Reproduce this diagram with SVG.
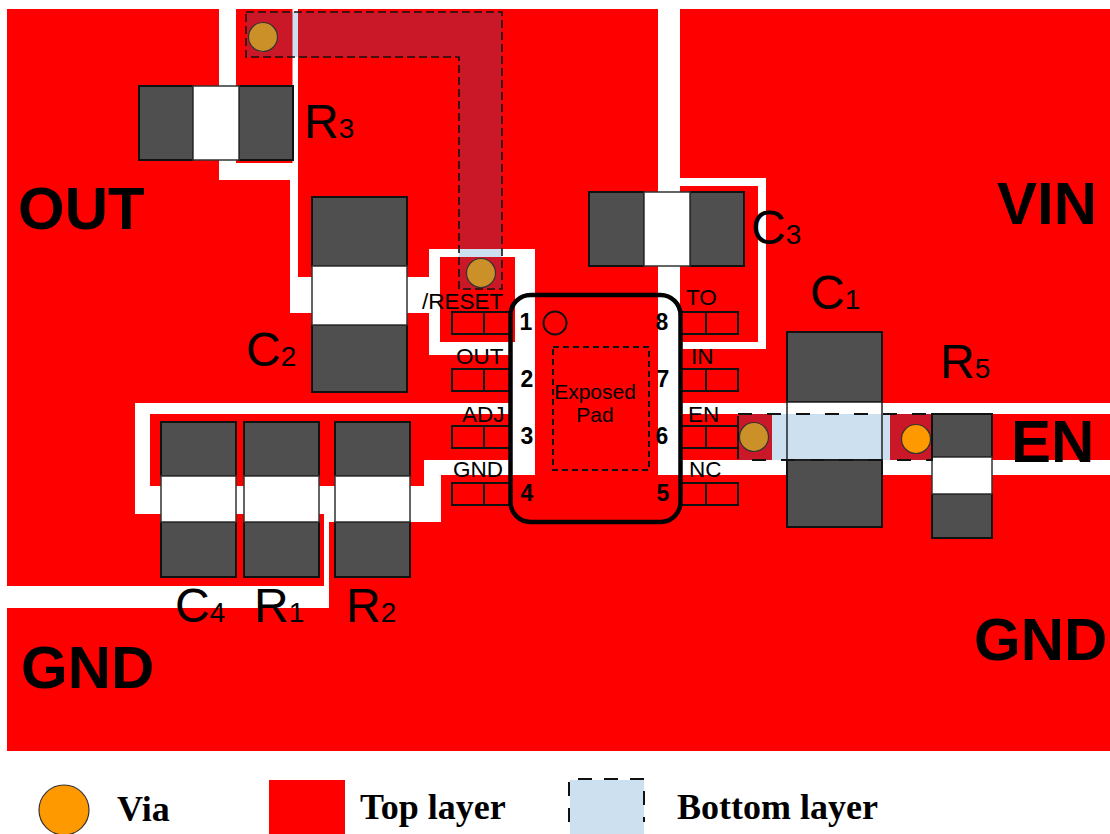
<svg xmlns="http://www.w3.org/2000/svg" width="1110" height="834" viewBox="0 0 1110 834">
<style>
.cu{fill:#ff0000}
.ov{fill:#cb1829}
.bl{fill:#cce0f0}
.dash{fill:none;stroke:#111;stroke-width:1.6;stroke-dasharray:8 4}
.dk{fill:#4f4f4f;stroke:#111;stroke-width:2}
.wh{fill:#fff;stroke:#333;stroke-width:1.5}
.pin{fill:none;stroke:#111;stroke-width:2}
.via{fill:#cc9028;stroke:#333;stroke-width:1.2}
.ovia{fill:#ff9900;stroke:#333;stroke-width:1.2}
text{font-family:"Liberation Sans",Arial,sans-serif;fill:#000}
.big{font-size:60px;font-weight:bold}
.ref{font-size:48px}
.sub{font-size:28px}
.lbl{font-size:22.5px}
.num{font-size:23px;font-weight:bold;text-anchor:middle}
.leg{font-family:"Liberation Serif","Times New Roman",serif;font-size:36px;font-weight:bold}
</style>
<rect width="1110" height="834" fill="#fff"/>
<g id="top-copper">
<polygon id="net-out" class="cu" points="7,9 219,9 219,180 290,180 290,313 429,313 429,355 510,355 510,403 135,403 135,514 324,514 324,586 7,586"/>
<rect id="r3-pad" class="cu" x="236" y="9" width="56.500" height="154"/>
<polygon id="net-reset-side" class="cu" points="298,9 658,9 658,475 535,475 535,249 429,249 429,277 298,277"/>
<rect id="reset-pad" class="cu" x="440" y="257" width="75" height="85"/>
<polygon id="net-vin" class="cu" points="680,9 1110,9 1110,403 680,403 680,349 766,349 766,178 680,178"/>
<rect id="c3-pad" class="cu" x="680" y="186" width="78" height="156"/>
<polygon id="net-adj" class="cu" points="150,414 510,414 510,460 424,460 424,486 150,486"/>
<rect id="net-en" class="cu" x="680" y="414" width="430" height="46"/>
<polygon id="net-gnd" class="cu" points="7,608 329,608 329,522 441,522 441,475 1110,475 1110,751 7,751"/>
</g>
<g id="bottom-layer">
<polygon class="ov" points="246,12 502,12 502,289 459,289 459,57 246,57"/>
<rect class="bl" x="292.500" y="12" width="5.500" height="45"/>
<rect class="bl" x="459" y="249" width="43" height="8"/>
<rect class="bl" x="772" y="414" width="118" height="46"/>
<rect class="ov" x="738" y="414" width="34" height="46"/>
<rect class="ov" x="890" y="414" width="42" height="46"/>
<polygon class="dash" points="246,12 502,12 502,289 459,289 459,57 246,57"/>
</g>
<g id="R3">
<rect class="dk" x="139" y="86" width="54" height="74"/><rect class="dk" x="239" y="86" width="54" height="74"/><rect class="wh" x="193" y="86" width="46" height="74"/>
<text class="ref" x="304" y="138">R<tspan class="sub">3</tspan></text>
</g>
<g id="C2">
<rect class="dk" x="312" y="197" width="95" height="69"/><rect class="dk" x="312" y="325" width="95" height="67"/><rect class="wh" x="312" y="266" width="95" height="59"/>
<text class="ref" x="246" y="366">C<tspan class="sub">2</tspan></text>
</g>
<g id="C3">
<rect class="dk" x="589" y="192" width="55" height="74"/><rect class="dk" x="690" y="192" width="54" height="74"/><rect class="wh" x="644" y="192" width="46" height="74"/>
<text class="ref" x="751" y="244">C<tspan class="sub">3</tspan></text>
</g>
<g id="C4">
<rect class="dk" x="161" y="422" width="75" height="54"/><rect class="dk" x="161" y="522" width="75" height="55"/><rect class="wh" x="161" y="476" width="75" height="46"/>
<text class="ref" x="175" y="622">C<tspan class="sub">4</tspan></text>
</g>
<g id="R1">
<rect class="dk" x="244" y="422" width="75" height="54"/><rect class="dk" x="244" y="522" width="75" height="55"/><rect class="wh" x="244" y="476" width="75" height="46"/>
<text class="ref" x="254" y="622">R<tspan class="sub">1</tspan></text>
</g>
<g id="R2">
<rect class="dk" x="335" y="422" width="75" height="54"/><rect class="dk" x="335" y="522" width="75" height="55"/><rect class="wh" x="335" y="476" width="75" height="46"/>
<text class="ref" x="346" y="622">R<tspan class="sub">2</tspan></text>
</g>
<g id="C1">
<rect class="dk" x="787" y="332" width="95" height="70"/><rect class="dk" x="787" y="460" width="95" height="67"/>
<rect x="787" y="402" width="95" height="12" fill="#fff"/>
<rect x="787" y="402" width="95" height="58" fill="none" stroke="#222" stroke-width="1.500"/>
<text class="ref" x="810" y="309">C<tspan class="sub">1</tspan></text>
</g>
<g id="R5">
<rect class="dk" x="932" y="414" width="60" height="43"/><rect class="dk" x="932" y="494" width="60" height="44"/><rect class="wh" x="932" y="457" width="60" height="37"/>
<text class="ref" x="940" y="378">R<tspan class="sub">5</tspan></text>
</g>
<g id="en-dash">
<rect class="dash" x="738" y="414" width="194" height="46" style="stroke-width:2;stroke-dasharray:14 15"/>
</g>
<g id="vias">
<circle class="via" cx="263" cy="37" r="14.500"/>
<circle class="via" cx="481" cy="273" r="14.500"/>
<circle class="via" cx="754" cy="437" r="14.500"/>
<circle class="ovia" cx="916" cy="439" r="14.500"/>
</g>
<g id="U1">
<rect class="pin" x="452" y="312" width="58" height="22"/><line class="pin" x1="484" y1="312" x2="484" y2="334"/>
<rect class="pin" x="452" y="369" width="58" height="22"/><line class="pin" x1="484" y1="369" x2="484" y2="391"/>
<rect class="pin" x="452" y="426" width="58" height="22"/><line class="pin" x1="484" y1="426" x2="484" y2="448"/>
<rect class="pin" x="452" y="483" width="58" height="22"/><line class="pin" x1="484" y1="483" x2="484" y2="505"/>
<rect class="pin" x="681" y="312" width="57" height="22"/><line class="pin" x1="706" y1="312" x2="706" y2="334"/>
<rect class="pin" x="681" y="369" width="57" height="22"/><line class="pin" x1="706" y1="369" x2="706" y2="391"/>
<rect class="pin" x="681" y="426" width="57" height="22"/><line class="pin" x1="706" y1="426" x2="706" y2="448"/>
<rect class="pin" x="681" y="483" width="57" height="22"/><line class="pin" x1="706" y1="483" x2="706" y2="505"/>
<rect x="510.500" y="295" width="170" height="227" rx="20" fill="none" stroke="#000" stroke-width="4.500"/>
<circle cx="555" cy="323" r="11.500" fill="none" stroke="#111" stroke-width="2"/>
<rect x="553" y="347" width="96" height="123" fill="none" stroke="#111" stroke-width="2" stroke-dasharray="6 4"/>
<text x="595" y="399" font-size="21" text-anchor="middle">Exposed</text>
<text x="595" y="422" font-size="21" text-anchor="middle">Pad</text>
<text class="num" x="526" y="330">1</text><text class="num" x="527" y="387">2</text><text class="num" x="527" y="444">3</text><text class="num" x="527" y="501">4</text>
<text class="num" x="662" y="330">8</text><text class="num" x="663" y="387">7</text><text class="num" x="662" y="444">6</text><text class="num" x="663" y="501">5</text>
<text class="lbl" x="422" y="309">/RESET</text>
<text class="lbl" x="456" y="364">OUT</text>
<text class="lbl" x="462" y="422">ADJ</text>
<text class="lbl" x="453" y="477">GND</text>
<text class="lbl" x="686" y="305">TO</text>
<text class="lbl" x="691" y="364">IN</text>
<text class="lbl" x="688" y="422">EN</text>
<text class="lbl" x="689" y="477">NC</text>
</g>
<g id="net-labels">
<text class="big" x="18" y="229">OUT</text>
<text class="big" x="997" y="224">VIN</text>
<text class="big" x="1011" y="462">EN</text>
<text class="big" x="21" y="688">GND</text>
<text class="big" x="974" y="660">GND</text>
</g>
<g id="legend">
<circle cx="64" cy="810" r="25" fill="#ff9900" stroke="#333" stroke-width="1.200"/>
<text class="leg" x="117" y="821">Via</text>
<rect class="cu" x="269" y="780" width="76" height="54"/>
<text class="leg" x="360" y="819">Top layer</text>
<rect class="bl" x="570" y="780" width="74" height="54"/>
<path d="M569,822V779H644V822" fill="none" stroke="#111" stroke-width="2" stroke-dasharray="14 12"/>
<text class="leg" x="677" y="819">Bottom layer</text>
</g>
</svg>
